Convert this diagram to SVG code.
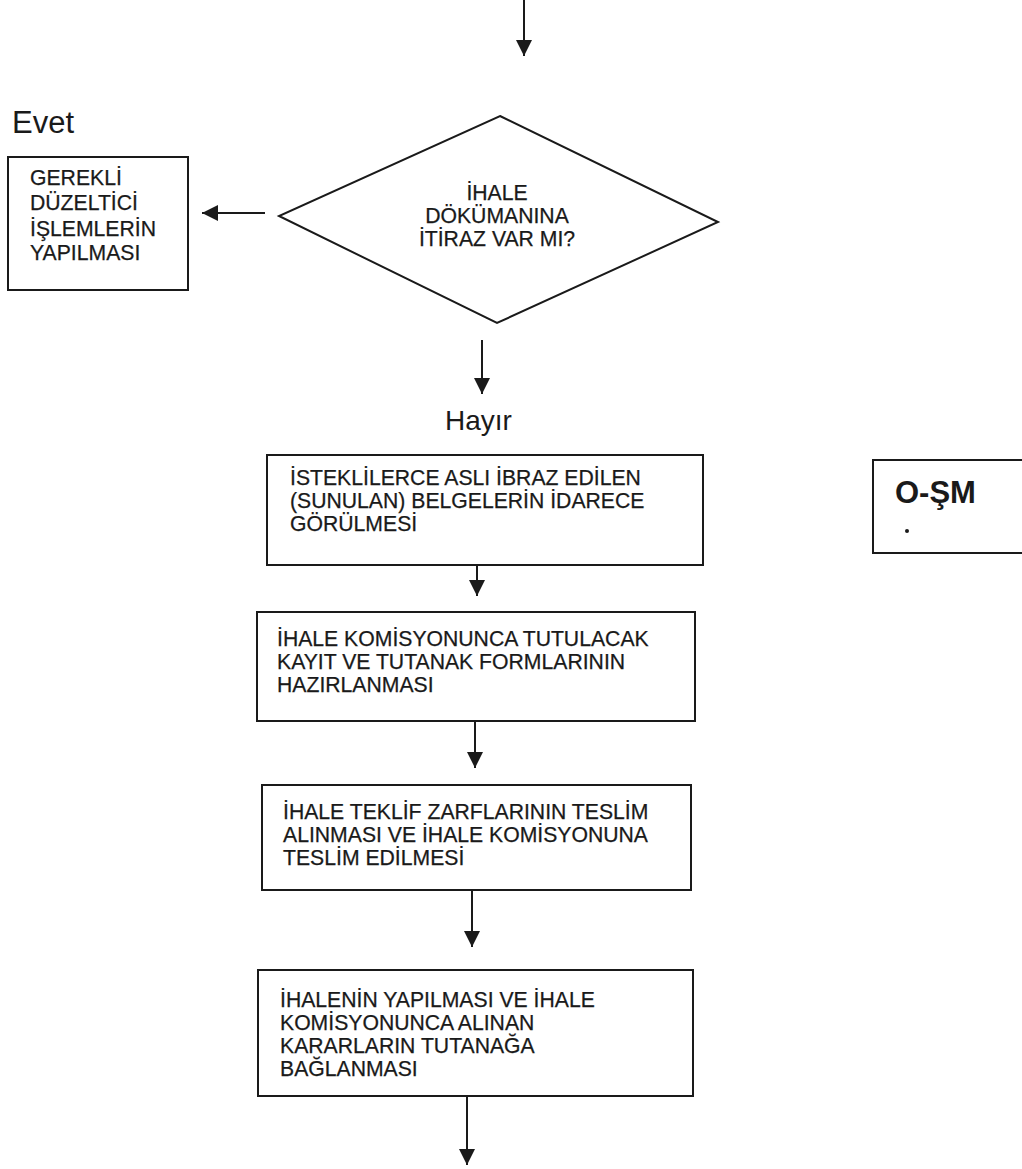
<svg xmlns="http://www.w3.org/2000/svg" width="1022" height="1169" viewBox="0 0 1022 1169">
<style>
.box{fill:#fff;stroke:#1a1a1a;stroke-width:2}
.t{font-family:"Liberation Sans",Arial,sans-serif;font-size:21.2px;fill:#1a1a1a;stroke:#1a1a1a;stroke-width:0.25}
.lbl{font-family:"Liberation Sans",Arial,sans-serif;font-size:28px;fill:#1a1a1a}
.conn{stroke:#1a1a1a;stroke-width:2;fill:none;marker-end:url(#ah)}
</style>
<defs>
<marker id="ah" markerWidth="16" markerHeight="16" refX="16" refY="8" orient="auto" markerUnits="userSpaceOnUse">
<path d="M0,0 L16,8 L0,16 Z" fill="#1a1a1a"/>
</marker>
</defs>
<rect width="1022" height="1169" fill="#fff"/>
<g id="connectors">
<line class="conn" x1="524" y1="0" x2="524" y2="56"/>
<line class="conn" x1="265" y1="213" x2="202" y2="213"/>
<line class="conn" x1="482" y1="340" x2="482" y2="394"/>
<line class="conn" x1="477" y1="565" x2="477" y2="596"/>
<line class="conn" x1="475" y1="721" x2="475" y2="768"/>
<line class="conn" x1="472" y1="890" x2="472" y2="947"/>
<line class="conn" x1="467" y1="1096" x2="467" y2="1165"/>
</g>
<g id="label-evet"><text class="lbl" x="12" y="133" style="font-size:31px">Evet</text></g>
<g id="label-hayir"><text class="lbl" x="445" y="430">Hayır</text></g>
<g id="node-duzeltici">
<rect class="box" x="8" y="157" width="180" height="133"/>
<text class="t" x="30" y="185">GEREKLİ</text>
<text class="t" x="30" y="210">DÜZELTİCİ</text>
<text class="t" x="30" y="236">İŞLEMLERİN</text>
<text class="t" x="30" y="260">YAPILMASI</text>
</g>
<g id="node-itiraz">
<polygon class="box" points="500,116 718,222 497,323 279,216"/>
<text class="t" x="497" y="200" text-anchor="middle">İHALE</text>
<text class="t" x="497" y="223" text-anchor="middle">DÖKÜMANINA</text>
<text class="t" x="497" y="246" text-anchor="middle">İTİRAZ VAR MI?</text>
</g>
<g id="node-belgeler">
<rect class="box" x="267" y="455" width="436" height="110"/>
<text class="t" x="290" y="485">İSTEKLİLERCE ASLI İBRAZ EDİLEN</text>
<text class="t" x="290" y="508">(SUNULAN) BELGELERİN İDARECE</text>
<text class="t" x="290" y="531">GÖRÜLMESİ</text>
</g>
<g id="node-osm">
<rect class="box" x="873" y="460" width="160" height="93"/>
<text x="895" y="503" style="font-family:'Liberation Sans',Arial,sans-serif;font-size:31px;font-weight:bold;fill:#1a1a1a">O-ŞM</text>
<circle cx="907" cy="531" r="2" fill="#1a1a1a"/>
</g>
<g id="node-formlar">
<rect class="box" x="257" y="612" width="438" height="109"/>
<text class="t" x="277" y="646">İHALE KOMİSYONUNCA TUTULACAK</text>
<text class="t" x="277" y="669">KAYIT VE TUTANAK FORMLARININ</text>
<text class="t" x="277" y="692">HAZIRLANMASI</text>
</g>
<g id="node-zarflar">
<rect class="box" x="262" y="785" width="429" height="105"/>
<text class="t" x="283" y="819">İHALE TEKLİF ZARFLARININ TESLİM</text>
<text class="t" x="283" y="842">ALINMASI VE İHALE KOMİSYONUNA</text>
<text class="t" x="283" y="865">TESLİM EDİLMESİ</text>
</g>
<g id="node-karar">
<rect class="box" x="258" y="970" width="435" height="126"/>
<text class="t" x="280" y="1007">İHALENİN YAPILMASI VE İHALE</text>
<text class="t" x="280" y="1030">KOMİSYONUNCA ALINAN</text>
<text class="t" x="280" y="1053">KARARLARIN TUTANAĞA</text>
<text class="t" x="280" y="1076">BAĞLANMASI</text>
</g>
</svg>
